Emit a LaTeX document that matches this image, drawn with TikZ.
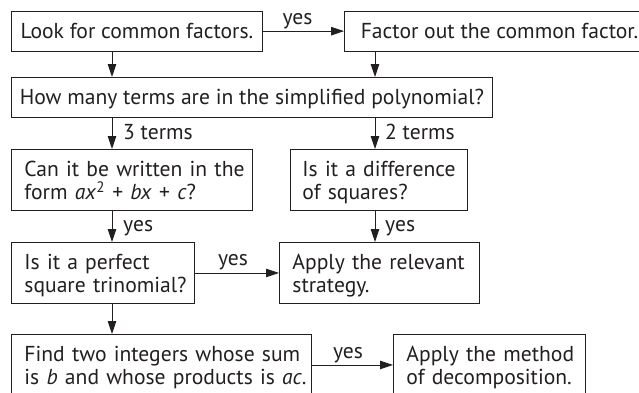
\documentclass[tikz,border=0pt]{standalone}
\usepackage{fontspec}
\setmainfont{PT Sans}
\usetikzlibrary{arrows.meta}
\definecolor{ink}{HTML}{231F20}
\newcommand\Ta{\rule{0pt}{22pt}}
\newcommand\Tb{\rule[-5.5pt]{0pt}{5.5pt}}
\tikzset{
  fs/.style={font=\fontsize{21.6}{23.5}\selectfont},
  box/.style={draw=ink, line width=0.9pt, anchor=north west, inner ysep=0pt, text=ink, fs},
  onebox/.style={box, minimum height=40pt, text height=19pt, text depth=5pt},
  twobox/.style={box, minimum height=61pt, align=left},
  lbl/.style={text=ink, fs, inner sep=0pt},
  arr/.style={draw=ink, line width=0.9pt, -{Triangle[length=13pt,width=8.5pt]}},
}
\begin{document}
\begin{tikzpicture}[x=1pt,y=-1pt]
\path[use as bounding box] (0,0) rectangle (639,392);
\clip (0,0) rectangle (639,392);
\coordinate (cl) at (112,0);
\coordinate (cr) at (375,0);
% boxes
\node[onebox, minimum width=251pt, inner xsep=8pt] (b1) at (11,10.7) {Look for common factors.};
\node[onebox, minimum width=310pt, inner xsep=13pt] (b2) at (344,10.7) {Factor out the common factor.};
\node[onebox, minimum width=481pt, inner xsep=8pt] (b3) at (11,77) {How many terms are in the simplified polynomial?};
\node[twobox, text width=215pt, inner xsep=13pt] (b4) at (11,149) {\Ta\mbox{Can it be written in the}\\\mbox{form \textit{ax}\textsuperscript{2} + \textit{bx} + \textit{c}?}\Tb};
\node[twobox, text width=153pt, inner xsep=12pt] (b5) at (290,149) {\Ta\mbox{Is it a difference}\\\mbox{of squares?}\Tb};
\node[twobox, text width=157pt, inner xsep=13pt] (b6) at (11,242) {\Ta\mbox{Is it a perfect}\\\mbox{square trinomial?}\Tb};
\node[twobox, text width=174pt, inner xsep=13pt] (b7) at (279,242) {\Ta\mbox{Apply the relevant}\\\mbox{strategy.}\Tb};
\node[twobox, text width=274pt, inner xsep=13pt] (b8) at (11,334) {\Ta\mbox{Find two integers whose sum}\\\mbox{is \textit{b} and whose products is \textit{ac}.}\Tb};
\node[twobox, text width=166pt, inner xsep=13pt] (b9) at (393,334) {\Ta\mbox{Apply the method}\\\mbox{of decomposition.}\Tb};
% connectors
\draw[arr] (b1) -- (b2);
\draw[arr] (b1.south -| cl) -- (b3.north -| cl);
\draw[arr] (b2.south -| cr) -- (b3.north -| cr);
\draw[arr] (b3.south -| cl) -- (b4.north -| cl);
\draw[arr] (b3.south -| cr) -- (b5.north -| cr);
\draw[arr] (b4.south -| cl) -- (b6.north -| cl);
\draw[arr] (b5.south -| cr) -- (b7.north -| cr);
\draw[arr] (b6) -- (b7);
\draw[arr] (b6.south -| cl) -- (b8.north -| cl);
\draw[arr] (b8) -- (b9);
% labels
\node[lbl, anchor=base] (y1) at (297.5,24) {yes};
\node[lbl, anchor=base west] (t3) at (123,139) {3 terms};
\node[lbl, anchor=base west] (t2) at (385,139) {2 terms};
\node[lbl, anchor=base west] (y2) at (123,231) {yes};
\node[lbl, anchor=base west] (y3) at (385,231) {yes};
\node[lbl, anchor=base] (y4) at (233,265) {yes};
\node[lbl, anchor=base] (y5) at (348,358) {yes};
\end{tikzpicture}
\end{document}
